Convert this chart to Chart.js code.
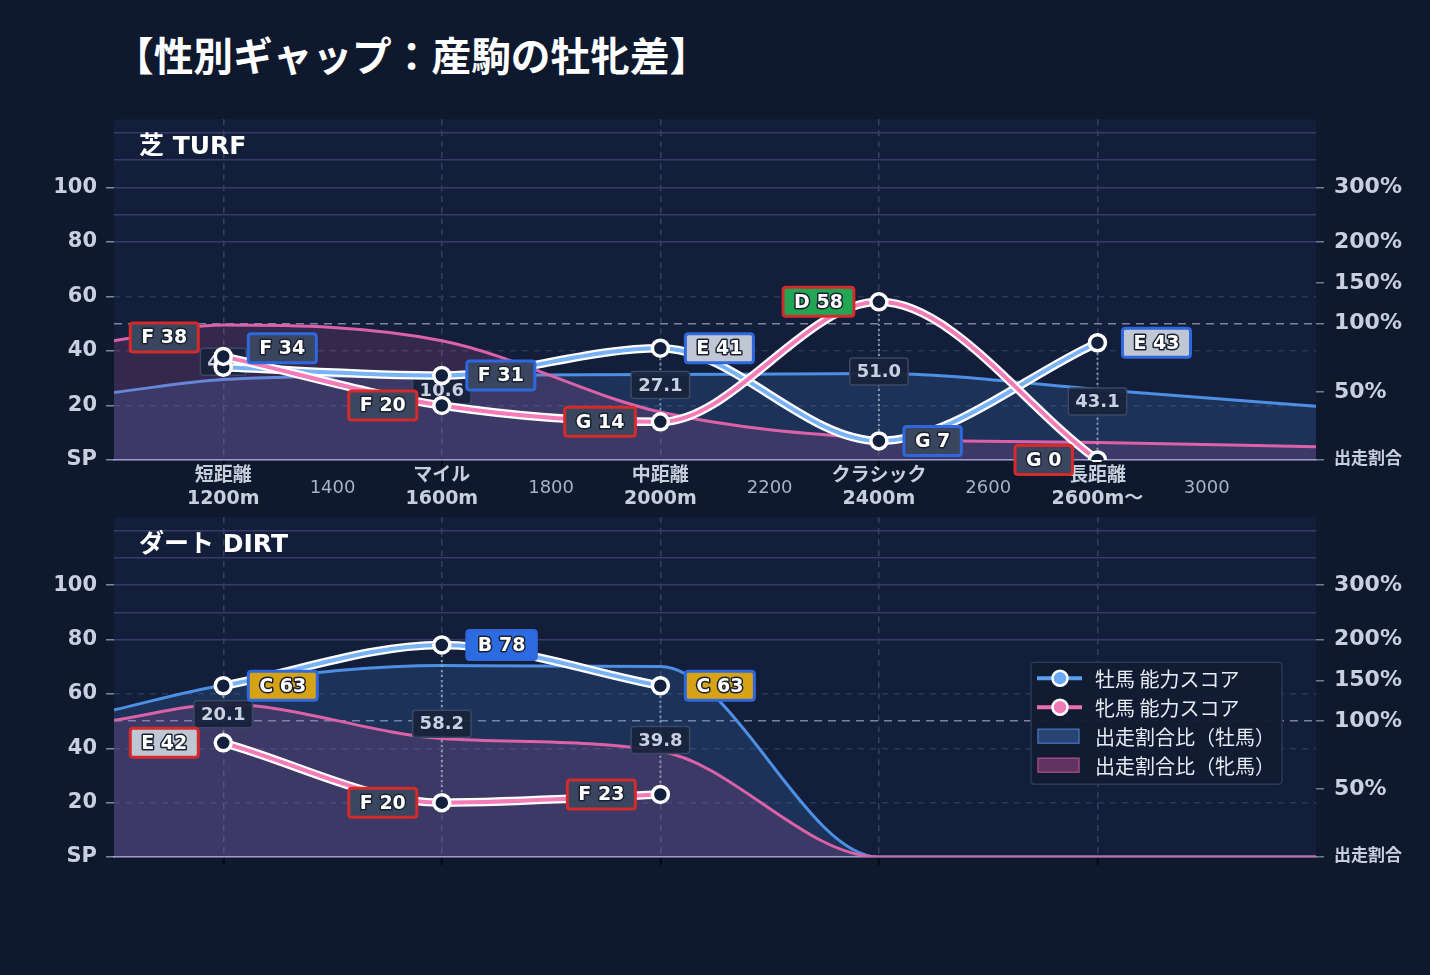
<!DOCTYPE html>
<html lang="ja">
<head>
<meta charset="utf-8">
<title>性別ギャップ：産駒の牡牝差</title>
<script src="https://cdn.jsdelivr.net/npm/chart.js@4.4.1/dist/chart.umd.min.js"></script>
<style>
  html, body { margin: 0; padding: 0; background: #0f192e; }
  #page { position: relative; width: 1430px; height: 975px; background: #0f192e; overflow: hidden; }
  h1 {
    position: absolute; left: 114px; top: 30px; margin: 0;
    font: bold 39.7px "Noto Sans CJK JP", sans-serif; line-height: 1.2; color: #ffffff;
  }
  canvas { position: absolute; left: 0; }
  #turf { top: 96px; }
  #dirt { top: 494px; }
</style>
</head>
<body>
<div id="page">
  <h1>【性別ギャップ：産駒の牡牝差】</h1>
  <canvas id="turf" width="1430" height="424"></canvas>
  <canvas id="dirt" width="1430" height="426"></canvas>
</div>
<script>
// ---------- data ----------
const distX = [1200, 1600, 2000, 2400, 2800];
const distNames = ['短距離', 'マイル', '中距離', 'クラシック', '長距離'];
const distSub = ['1200m', '1600m', '2000m', '2400m', '2600m〜'];
const xTickValues = [1200, 1400, 1600, 1800, 2000, 2200, 2400, 2600, 2800, 3000];
const ratioX = [1000, 1200, 1600, 2000, 2400, 2800, 3200];

const scoreTicks = [0, 20, 40, 60, 80, 100];
const gridValues = [0, 20, 40, 60, 80, 90, 100, 110, 120];
const ratioTickPct = [0, 50, 100, 150, 200, 300];
const ratioTickPos = [0, 25, 50, 65, 80, 100];

const turfMale = [34, 31, 41, 7, 43];
const turfFemale = [38, 20, 14, 58, 0];
const turfMaleGrade = ['F', 'F', 'E', 'G', 'E'];
const turfFemaleGrade = ['F', 'F', 'G', 'D', 'G'];
const turfGap = [4.3, 10.6, 27.1, 51.0, 43.1];
const turfMaleRatio = [49.6, 59, 62, 62.7, 63.4, 51.8, 39.4];
const turfFemaleRatio = [87.5, 99, 87.5, 35.2, 16, 12.9, 9.7];

const dirtMale = [63, 78, 63];
const dirtFemale = [42, 20, 23];
const dirtMaleGrade = ['C', 'B', 'C'];
const dirtFemaleGrade = ['E', 'F', 'F'];
const dirtGap = [20.1, 58.2, 39.8];
const dirtMaleRatio = [113.7, 144, 168, 167, 0, 0, 0];
const dirtFemaleRatio = [101, 120.7, 87.2, 77.8, 0, 0, 0];

// ---------- styling ----------
const FONT = '"DejaVu Sans", "Noto Sans CJK JP", sans-serif';
const CJK = '"Noto Sans CJK JP", "DejaVu Sans", sans-serif';
const gradeFill = { B: '#2d6be3', C: '#d6a317', D: '#22a654', E: '#bfc7d5', F: '#3a465f', G: '#3a465f' };
const maleEdge = '#2e68dc';
const femaleEdge = '#d32b2b';

// ratio (%) -> position on the shared 0-125 axis (piecewise, same as right ticks)
function toRatioAxis(pct) {
    for (let i = 1; i < ratioTickPct.length; i++) {
        if (pct <= ratioTickPct[i]) {
            const t = (pct - ratioTickPct[i - 1]) / (ratioTickPct[i] - ratioTickPct[i - 1]);
            return ratioTickPos[i - 1] + t * (ratioTickPos[i] - ratioTickPos[i - 1]);
        }
    }
    return ratioTickPos[ratioTickPos.length - 1];
}

function roundRect(ctx, x, y, w, h, r) {
    ctx.beginPath();
    ctx.moveTo(x + r, y);
    ctx.lineTo(x + w - r, y);
    ctx.quadraticCurveTo(x + w, y, x + w, y + r);
    ctx.lineTo(x + w, y + h - r);
    ctx.quadraticCurveTo(x + w, y + h, x + w - r, y + h);
    ctx.lineTo(x + r, y + h);
    ctx.quadraticCurveTo(x, y + h, x, y + h - r);
    ctx.lineTo(x, y + r);
    ctx.quadraticCurveTo(x, y, x + r, y);
    ctx.closePath();
}

function gradeBox(ctx, text, x, y, side, fill, edge) {
    ctx.font = 'bold 19px ' + FONT;
    const w = ctx.measureText(text).width + 22;
    const h = 29;
    const left = side === 'right' ? x : x - w;
    roundRect(ctx, left, y - h / 2, w, h, 3);
    ctx.fillStyle = fill;
    ctx.fill();
    ctx.lineWidth = 3;
    ctx.strokeStyle = edge;
    ctx.stroke();
    ctx.textAlign = 'center';
    ctx.textBaseline = 'middle';
    ctx.lineJoin = 'round';
    ctx.lineWidth = 3;
    ctx.strokeStyle = '#1b2131';
    ctx.strokeText(text, left + w / 2, y + 1);
    ctx.fillStyle = '#ffffff';
    ctx.fillText(text, left + w / 2, y + 1);
}

function gapBox(ctx, text, cx, cy) {
    ctx.font = 'bold 18px ' + FONT;
    const w = ctx.measureText(text).width + 14;
    const h = 27;
    roundRect(ctx, cx - w / 2, cy - h / 2, w, h, 3);
    ctx.fillStyle = 'rgba(24,34,58,0.94)';
    ctx.fill();
    ctx.lineWidth = 1.5;
    ctx.strokeStyle = '#3b4864';
    ctx.stroke();
    ctx.fillStyle = '#c9d1e1';
    ctx.textAlign = 'center';
    ctx.textBaseline = 'middle';
    ctx.fillText(text, cx, cy + 1);
}

// ---------- per-panel overlay plugin ----------
function makeOverlay(cfg) {
    return {
        id: 'overlay',
        beforeDraw(chart) {
            const { ctx, chartArea: a } = chart;
            ctx.save();
            ctx.fillStyle = '#131e3a';
            ctx.fillRect(a.left, a.top, a.right - a.left, a.bottom - a.top);
            ctx.restore();
        },
        beforeDatasetDraw(chart, args) {
            const ds = chart.data.datasets[args.index];
            const { ctx, chartArea: a, scales: { x, y } } = chart;
            if (ds.role === 'male') {
                // dotted connectors + gap labels under the score lines
                ctx.save();
                ctx.setLineDash([2, 3]);
                ctx.lineWidth = 2;
                ctx.strokeStyle = 'rgba(170,182,205,0.75)';
                cfg.gap.forEach((g, i) => {
                    const px = x.getPixelForValue(distX[i]);
                    ctx.beginPath();
                    ctx.moveTo(px, y.getPixelForValue(cfg.male[i]));
                    ctx.lineTo(px, y.getPixelForValue(cfg.female[i]));
                    ctx.stroke();
                });
                ctx.setLineDash([]);
                cfg.gap.forEach((g, i) => {
                    const mid = (cfg.male[i] + cfg.female[i]) / 2;
                    gapBox(ctx, g.toFixed(1), x.getPixelForValue(distX[i]), y.getPixelForValue(mid));
                });
                ctx.restore();
            }
            if (ds.outline) {
                const line = args.meta.dataset;
                line.updateControlPoints(a, 'x');
                ctx.save();
                ctx.beginPath();
                ctx.rect(a.left, a.top - 20, a.right - a.left, a.bottom - a.top + 22);
                ctx.clip();
                ctx.beginPath();
                line.path(ctx);
                ctx.lineWidth = 8.5;
                ctx.lineJoin = 'round';
                ctx.lineCap = 'round';
                ctx.strokeStyle = '#ffffff';
                ctx.stroke();
                ctx.restore();
            }
        },
        afterDatasetsDraw(chart) {
            const { ctx, scales: { x, y } } = chart;
            ctx.save();
            cfg.male.forEach((v, i) => {
                const px = x.getPixelForValue(distX[i]);
                const ym = y.getPixelForValue(v);
                const yf = y.getPixelForValue(cfg.female[i]);
                const shift = Math.abs(ym - yf) < 24 ? -19 : 0;
                gradeBox(ctx, cfg.maleGrade[i] + ' ' + v, px + 25, ym + shift, 'right',
                    gradeFill[cfg.maleGrade[i]], maleEdge);
                gradeBox(ctx, cfg.femaleGrade[i] + ' ' + cfg.female[i], px - 25, yf + shift, 'left',
                    gradeFill[cfg.femaleGrade[i]], femaleEdge);
            });
            ctx.restore();
        },
        afterDraw(chart) {
            const { ctx, chartArea: a } = chart;
            ctx.save();
            ctx.font = 'bold 25px ' + FONT;
            ctx.fillStyle = '#ffffff';
            ctx.textAlign = 'left';
            ctx.textBaseline = 'middle';
            ctx.fillText(cfg.title, a.left + 25, a.top + 28);

            if (cfg.legend) {
                const ds = chart.data.datasets;
                const left = a.right - 285, top = a.top + 145, w = 251, h = 122;
                roundRect(ctx, left, top, w, h, 4);
                ctx.fillStyle = 'rgba(17,27,50,0.95)';
                ctx.fill();
                ctx.lineWidth = 1.5;
                ctx.strokeStyle = '#2d3953';
                ctx.stroke();
                const items = [
                    { ds: ds[0], kind: 'line', color: '#5b9eef', dot: '#6aaaf5' },
                    { ds: ds[1], kind: 'line', color: '#e870b0', dot: '#f07ab8' },
                    { ds: ds[3], kind: 'box', color: 'rgba(74,130,210,0.4)', edge: '#3f6cb5' },
                    { ds: ds[2], kind: 'box', color: 'rgba(190,80,150,0.45)', edge: '#9c4a88' }
                ];
                items.forEach((it, k) => {
                    const cy = top + 16 + k * 29;
                    if (it.kind === 'line') {
                        ctx.beginPath();
                        ctx.moveTo(left + 6, cy);
                        ctx.lineTo(left + 51, cy);
                        ctx.lineWidth = 4;
                        ctx.strokeStyle = it.color;
                        ctx.stroke();
                        ctx.beginPath();
                        ctx.arc(left + 29, cy, 7.5, 0, Math.PI * 2);
                        ctx.fillStyle = it.dot;
                        ctx.fill();
                        ctx.lineWidth = 2.5;
                        ctx.strokeStyle = '#ffffff';
                        ctx.stroke();
                    } else {
                        ctx.fillStyle = it.color;
                        ctx.fillRect(left + 7, cy - 7, 41, 14);
                        ctx.lineWidth = 1.5;
                        ctx.strokeStyle = it.edge;
                        ctx.strokeRect(left + 7, cy - 7, 41, 14);
                    }
                    ctx.font = '20px ' + CJK;
                    ctx.fillStyle = '#e6eaf2';
                    ctx.textAlign = 'left';
                    ctx.textBaseline = 'middle';
                    ctx.fillText(it.ds.label, left + 64, cy + 1);
                });
            }
            ctx.restore();
        }
    };
}

// ---------- panel builder ----------
function buildPanel(id, cfg) {
    const pts = vals => vals.map((v, i) => ({ x: distX[i], y: v }));
    const ratioPts = vals => vals.map((v, i) => ({ x: ratioX[i], y: toRatioAxis(v) }));
    const isCat = v => distX.includes(v);

    return new Chart(document.getElementById(id), {
        type: 'line',
        data: {
            datasets: [
                {
                    label: '牡馬 能力スコア', role: 'male', outline: true, order: 1,
                    data: pts(cfg.male), borderColor: '#79b3f6', borderWidth: 4,
                    pointRadius: 8, pointBorderWidth: 3.5,
                    pointBackgroundColor: '#13203d', pointBorderColor: '#ffffff',
                    cubicInterpolationMode: 'monotone', fill: false
                },
                {
                    label: '牝馬 能力スコア', role: 'female', outline: true, order: 0,
                    data: pts(cfg.female), borderColor: '#f27bb8', borderWidth: 4,
                    pointRadius: 8, pointBorderWidth: 3.5,
                    pointBackgroundColor: '#13203d', pointBorderColor: '#ffffff',
                    cubicInterpolationMode: 'monotone', fill: false
                },
                {
                    label: '出走割合比（牝馬）', order: 2,
                    data: ratioPts(cfg.femaleRatio), borderColor: '#dc62a8', borderWidth: 3,
                    backgroundColor: 'rgba(226,96,170,0.17)', fill: 'origin',
                    pointRadius: 0, cubicInterpolationMode: 'monotone'
                },
                {
                    label: '出走割合比（牡馬）', order: 3,
                    data: ratioPts(cfg.maleRatio), borderColor: '#4d8fe3', borderWidth: 3,
                    backgroundColor: 'rgba(74,144,226,0.18)', fill: 'origin',
                    pointRadius: 0, cubicInterpolationMode: 'monotone'
                }
            ]
        },
        options: {
            responsive: false,
            animation: false,
            events: [],
            layout: { padding: { top: 0, left: 0, right: 0, bottom: 0 } },
            plugins: { legend: { display: false }, tooltip: { enabled: false } },
            scales: {
                x: {
                    type: 'linear', min: 1000, max: 3200,
                    afterFit: s => { s.height = cfg.axisHeight; },
                    afterBuildTicks: s => { s.ticks = xTickValues.map(v => ({ value: v })); },
                    grid: {
                        color: c => c.tick && isCat(c.tick.value) ? '#34415e' : 'transparent',
                        lineWidth: 1.5, tickLength: 8, tickWidth: 2,
                        tickColor: c => c.tick && isCat(c.tick.value) ? '#05080f' : 'transparent'
                    },
                    border: { color: '#a9a9d6', width: 1.5, dash: c => c.tick ? [6, 5] : [] },
                    ticks: {
                        padding: 8, autoSkip: false, maxRotation: 0, crossAlign: 'center',
                        callback: v => {
                            if (!cfg.xLabels) return '';
                            const i = distX.indexOf(v);
                            return i >= 0 ? [distNames[i], distSub[i]] : String(v);
                        },
                        font: c => c.tick && isCat(c.tick.value)
                            ? { family: FONT, size: 19, weight: 'bold' }
                            : { family: FONT, size: 18 },
                        color: c => c.tick && isCat(c.tick.value) ? '#c7cfdd' : '#a9b2c4'
                    }
                },
                y: {
                    type: 'linear', position: 'left', min: 0, max: 125,
                    afterFit: s => { s.width = 114; },
                    afterBuildTicks: s => { s.ticks = gridValues.map(v => ({ value: v })); },
                    grid: {
                        color: c => {
                            if (!c.tick || c.tick.value === 0) return 'transparent';
                            return c.tick.value <= 60 ? '#28375a' : '#393a69';
                        },
                        lineWidth: 1.5, tickLength: 8,
                        tickColor: c => c.tick && scoreTicks.includes(c.tick.value) ? '#7d879c' : 'transparent'
                    },
                    border: { display: false, dash: c => c.tick && c.tick.value <= 60 ? [6, 6] : [] },
                    ticks: {
                        padding: 9,
                        callback: v => v === 0 ? 'SP' : (scoreTicks.includes(v) ? String(v) : ''),
                        font: { family: FONT, size: 21, weight: 'bold' },
                        color: '#c8d0df'
                    }
                },
                y2: {
                    type: 'linear', position: 'right', min: 0, max: 125,
                    afterFit: s => { s.width = 114; },
                    afterBuildTicks: s => { s.ticks = ratioTickPos.map(v => ({ value: v })); },
                    grid: {
                        color: c => c.tick && c.tick.value === 50 ? 'rgba(150,158,182,0.8)' : 'transparent',
                        lineWidth: 1.5, tickLength: 8, tickColor: '#6f7a92'
                    },
                    border: { display: false, dash: c => c.tick && c.tick.value === 50 ? [8, 6] : [] },
                    ticks: {
                        padding: 10,
                        callback: v => {
                            const i = ratioTickPos.indexOf(v);
                            return i === 0 ? '出走割合' : ratioTickPct[i] + '%';
                        },
                        font: c => ({ family: FONT, weight: 'bold', size: c.tick && c.tick.value === 0 ? 17 : 22 }),
                        color: '#c8d0df'
                    }
                }
            }
        },
        plugins: [makeOverlay(cfg)]
    });
}

// ---------- init ----------
buildPanel('turf', {
    title: '芝 TURF', axisHeight: 60, xLabels: true, legend: false,
    male: turfMale, female: turfFemale, maleGrade: turfMaleGrade, femaleGrade: turfFemaleGrade,
    gap: turfGap, maleRatio: turfMaleRatio, femaleRatio: turfFemaleRatio
});

buildPanel('dirt', {
    title: 'ダート DIRT', axisHeight: 63, xLabels: false, legend: true,
    male: dirtMale, female: dirtFemale, maleGrade: dirtMaleGrade, femaleGrade: dirtFemaleGrade,
    gap: dirtGap, maleRatio: dirtMaleRatio, femaleRatio: dirtFemaleRatio
});
</script>
</body>
</html>
